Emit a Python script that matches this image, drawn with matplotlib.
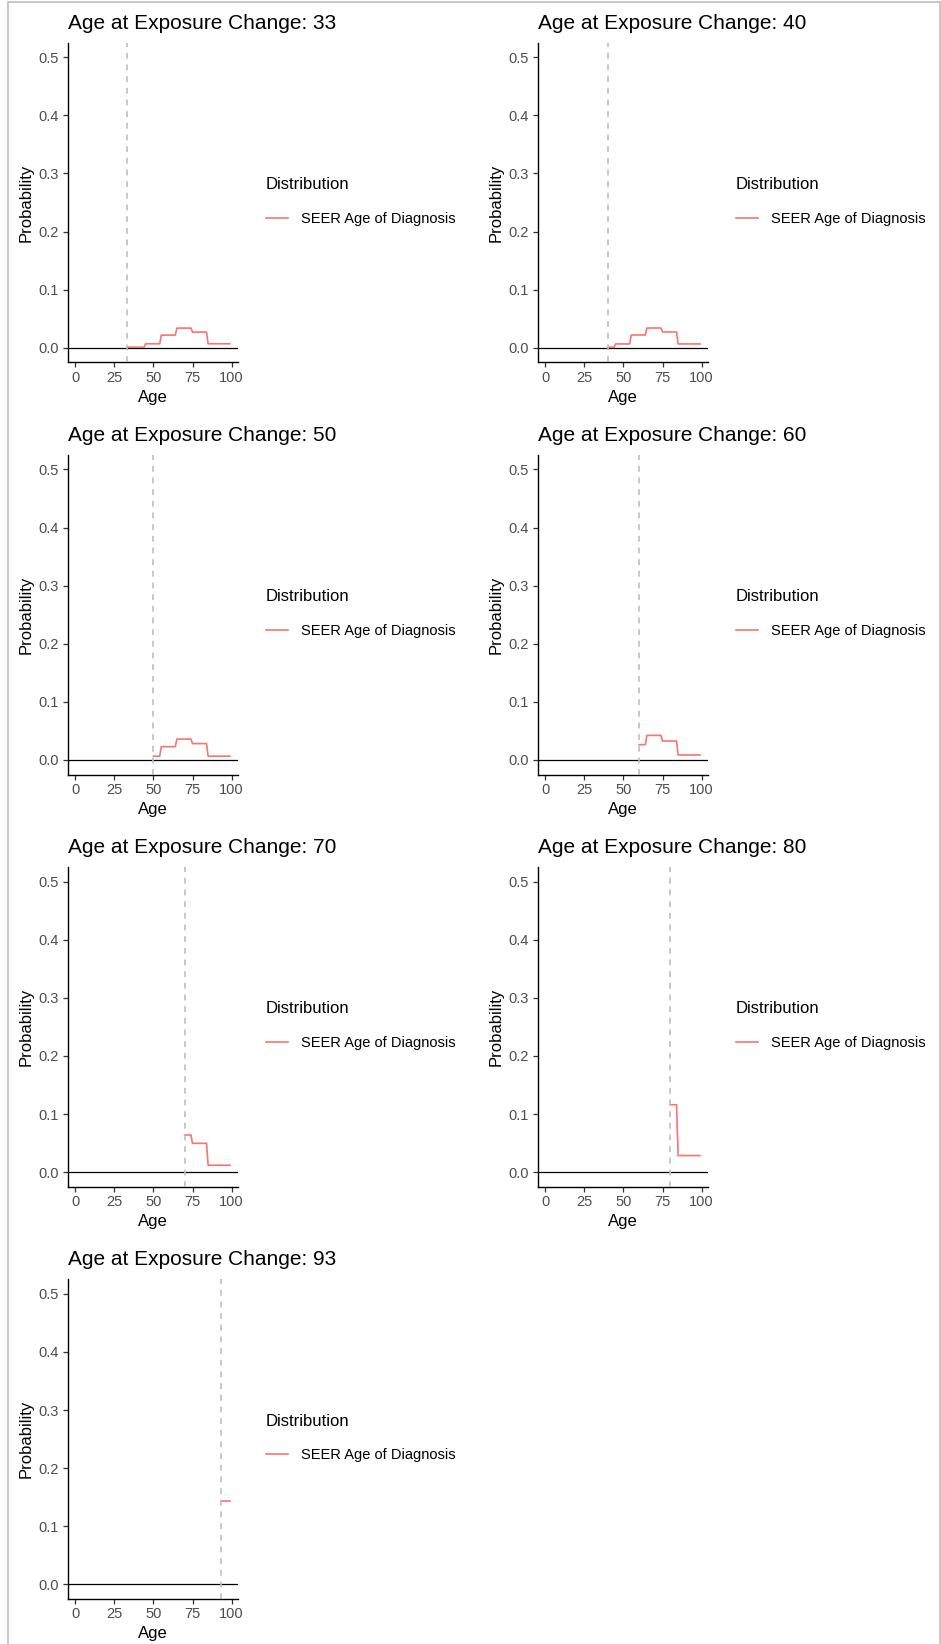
import numpy as np
import matplotlib
matplotlib.use("Agg")
import matplotlib.pyplot as plt
from matplotlib.patches import Rectangle

plt.rcParams['font.family'] = ['Liberation Sans', 'DejaVu Sans']

# one panel per age at exposure change
change_ages = [33, 40, 50, 60, 70, 80, 93]

# first age of each SEER age group shown in a panel, and the yearly probability of that group
group_starts = {
    33: [33, 45, 55, 65, 75, 85],
    40: [40, 45, 55, 65, 75, 85],
    50: [50, 55, 65, 75, 85],
    60: [60, 65, 75, 85],
    70: [70, 75, 85],
    80: [80, 85],
    93: [93],
}
group_probs = {
    33: [0.001, 0.0069, 0.0218, 0.0339, 0.0270, 0.0069],
    40: [0.001, 0.0066, 0.0220, 0.0340, 0.0272, 0.0066],
    50: [0.0065, 0.0229, 0.0360, 0.0282, 0.0065],
    60: [0.0263, 0.0423, 0.0326, 0.0086],
    70: [0.0640, 0.0497, 0.0120],
    80: [0.1160, 0.0286],
    93: [0.143],
}
last_age = 99
y_ticks = [0.0, 0.1, 0.2, 0.3, 0.4, 0.5]
x_ticks = [0, 25, 50, 75, 100]
legend_label = "SEER Age of Diagnosis"

W, H = 941, 1644
fig = plt.figure(figsize=(W / 100, H / 100), dpi=100)


def px_axes(left, top, w, h):
    return fig.add_axes([left / W, 1 - (top + h) / H, w / W, h / H])


for i, age in enumerate(change_ages):
    col = i % 2
    row = i // 2
    ax = px_axes(67.7 + 470 * col, 42.7 + 412.2 * row, 170, 319.6)

    starts = group_starts[age]
    probs = group_probs[age]
    lengths = np.diff(starts + [last_age + 1])
    ages = np.arange(starts[0], last_age + 1)
    p = np.repeat(probs, lengths)

    line, = ax.plot(ages, p, color='#F8766D', lw=1.2, label=legend_label, zorder=3)
    ax.axhline(0, color='black', lw=0.9, zorder=2)
    ax.axvline(age, color='#BEBEBE', lw=1.2, dashes=(3.5, 3.5), zorder=4)

    ax.set_xlim(-4.95, 103.95)
    ax.set_ylim(-0.025, 0.525)
    for s in ['top', 'right']:
        ax.spines[s].set_visible(False)
    for s in ['left', 'bottom']:
        ax.spines[s].set_linewidth(1.0)
        ax.spines[s].set_color('black')
    ax.set_xticks(x_ticks)
    ax.set_xticklabels([str(t) for t in x_ticks])
    ax.set_yticks(y_ticks)
    ax.set_yticklabels(["%.1f" % t for t in y_ticks])
    ax.tick_params(length=3.6, width=0.9, color='#333333', labelsize=10.5,
                   labelcolor='#4D4D4D', pad=2.5)

    ax.set_title("Age at Exposure Change: %d" % age, loc='left', fontsize=15, pad=10)
    ax.set_xlabel("Age", fontsize=12)
    ax.set_ylabel("Probability", fontsize=12)
    ax.xaxis.set_label_coords(0.5, -0.086)
    ax.yaxis.set_label_coords(-0.202, 0.5)

    ax.legend(handles=[line], loc='upper left', bbox_to_anchor=(1.165, 0.58),
              frameon=False, title='Distribution', title_fontsize=12, fontsize=10.5,
              alignment='left', handlelength=1.55, handletextpad=0.85,
              borderpad=0, borderaxespad=0, labelspacing=1.35)

# grey viewer frame around the figure
fig.add_artist(Rectangle((8 / W, -0.01), (940 - 8) / W, (H - 2) / H + 0.01,
                         transform=fig.transFigure, fill=False,
                         edgecolor='#BDBDBD', lw=1.2))

fig.savefig("out.png", dpi=100)
